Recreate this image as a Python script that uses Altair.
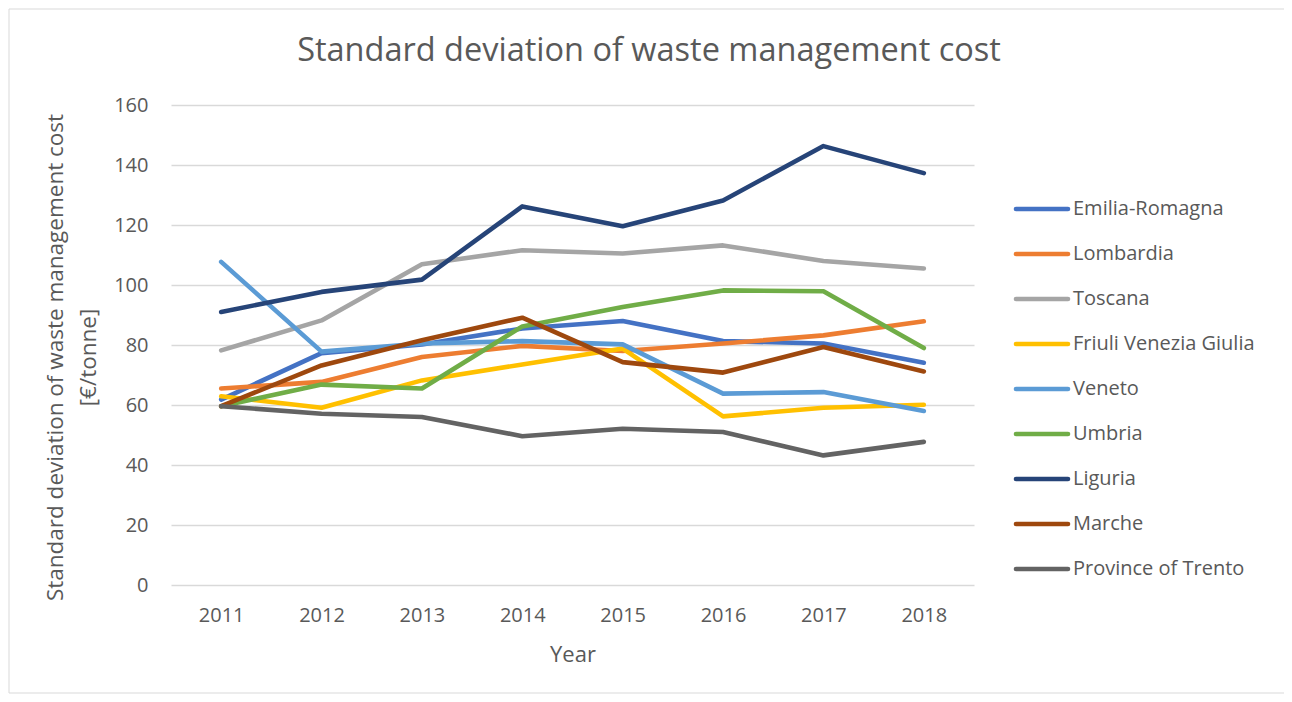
import altair as alt
import pandas as pd

years = ["2011", "2012", "2013", "2014", "2015", "2016", "2017", "2018"]

regions = ["Emilia-Romagna", "Lombardia", "Toscana", "Friuli Venezia Giulia",
           "Veneto", "Umbria", "Liguria", "Marche", "Province of Trento"]

colors = ["#4472C4", "#ED7D31", "#A5A5A5", "#FFC000", "#5B9BD5",
          "#70AD47", "#264478", "#9E480E", "#636363"]

chart_title = ["Standard deviation of waste management cost"]

emilia_romagna = [61.8, 77.3, 80.2, 85.5, 88.0, 81.3, 80.5, 74.1]
lombardia = [65.5, 67.7, 76.0, 79.7, 78.0, 80.5, 83.2, 87.9]
toscana = [78.2, 88.2, 106.9, 111.6, 110.5, 113.2, 108.0, 105.5]
friuli = [62.9, 59.1, 68.2, 73.5, 78.8, 56.2, 59.1, 60.1]
veneto = [107.7, 77.8, 80.5, 81.3, 80.2, 63.8, 64.3, 58.0]
umbria = [59.6, 66.8, 65.5, 86.2, 92.7, 98.2, 97.9, 79.0]
liguria = [91.0, 97.7, 101.8, 126.2, 119.6, 128.2, 146.3, 137.3]
marche = [59.6, 73.2, 81.6, 89.1, 74.3, 70.8, 79.3, 71.2]
trento = [59.6, 57.1, 56.0, 49.6, 52.1, 51.0, 43.2, 47.7]

series = [emilia_romagna, lombardia, toscana, friuli, veneto, umbria,
          liguria, marche, trento]

rows = []
for name, vals in zip(regions, series):
    for y, v in zip(years, vals):
        rows.append({"Region": name, "Year": y, "Value": v})
df = pd.DataFrame(rows)
legend_df = pd.DataFrame({"Region": regions})
title_df = pd.DataFrame({"t": chart_title})

FONT = "Open Sans"
GREY = "#595959"
W, H = 803, 480

color_scale = alt.Scale(domain=regions, range=colors)

border = alt.Chart(pd.DataFrame({"a": [0]})).mark_rect(
    fillOpacity=0, stroke="#d9d9d9", strokeWidth=1
).encode(
    x=alt.value(-162), x2=alt.value(1116),
    y=alt.value(-96), y2=alt.value(588),
)

title = alt.Chart(title_df).mark_text(
    align="center", baseline="alphabetic", fontSize=32.5, font=FONT, color=GREY
).encode(
    x=alt.value(478), y=alt.value(-44), text="t:N",
)

lines = alt.Chart(df).mark_line(
    strokeWidth=4.6, strokeCap="round", strokeJoin="round"
).encode(
    x=alt.X("Year:O", sort=years,
            scale=alt.Scale(type="point", padding=0.5),
            axis=alt.Axis(title="Year", labelAngle=0, ticks=False, tickSize=0,
                          domain=False, grid=False, labelPadding=20,
                          labelFontSize=20, labelColor=GREY, labelFont=FONT,
                          titleFontSize=22, titleColor=GREY, titleFont=FONT,
                          titleFontWeight="normal", titlePadding=19)),
    y=alt.Y("Value:Q", scale=alt.Scale(domain=[0, 160], nice=False),
            axis=alt.Axis(values=list(range(0, 161, 20)), ticks=False, tickSize=0,
                          domain=False, grid=True, gridColor="#d9d9d9",
                          gridWidth=1.3, labelPadding=23,
                          labelFontSize=20, labelColor=GREY, labelFont=FONT,
                          title=["Standard deviation of waste management cost", "[€/tonne]"],
                          titleFontSize=22.5, titleColor=GREY, titleFont=FONT,
                          titleFontWeight="normal", titleLineHeight=33,
                          titlePadding=13, titleY=252)),
    color=alt.Color("Region:N", scale=color_scale, legend=None),
    detail="Region:N",
)

leg_y = alt.Y("Region:N", sort=regions,
              scale=alt.Scale(type="point", domain=regions, range=[104, 464], padding=0),
              axis=None)

leg_rules = alt.Chart(legend_df).mark_rule(strokeWidth=4.6, strokeCap="round").encode(
    x=alt.value(845), x2=alt.value(897),
    y=leg_y,
    color=alt.Color("Region:N", scale=color_scale, legend=None),
)
leg_text = alt.Chart(legend_df).mark_text(
    align="left", baseline="middle", fontSize=20, font=FONT, color=GREY
).encode(
    x=alt.value(902),
    y=leg_y,
    text="Region:N",
)
legend = alt.layer(leg_rules, leg_text)

chart = alt.layer(border, title, lines, legend).resolve_scale(
    y="independent"
).properties(
    width=W, height=H,
    background="white",
    autosize=alt.AutoSizeParams(type="none"),
    padding={"left": 163, "top": 97, "right": 310, "bottom": 109},
).configure_view(strokeWidth=0)

chart.save("out.html", embed_options={"renderer": "svg", "actions": False})
